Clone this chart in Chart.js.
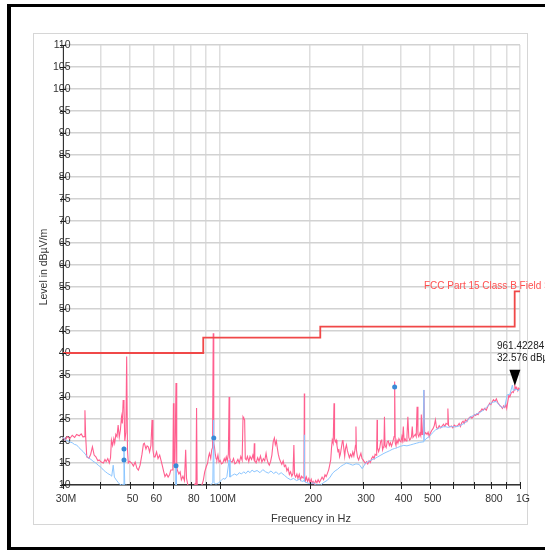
<!DOCTYPE html>
<html>
<head>
<title>Radiated Emission Scan</title>
<script src="https://cdn.jsdelivr.net/npm/chart.js@4.4.1/dist/chart.umd.min.js"></script>
<style>
  html, body { margin: 0; padding: 0; background: #fff; overflow: hidden; }
  #scan { display: block; }
</style>
</head>
<body>
<canvas id="scan" width="545" height="550"></canvas>
<script>
// FCC Part 15 Class B limit, MHz / dBuV/m
const limitFreq  = [30, 88, 88, 216, 216, 960, 960, 1000];
const limitLevel = [40, 40, 43.5, 43.5, 46, 46, 54, 54];

// peak trace (pink)
const peakFreq = [
  30.0, 30.5, 31.0, 31.6, 32.2, 32.8, 33.3, 34.0, 34.5, 35.0,
  35.3, 35.5, 35.7, 36.0, 36.6, 37.1, 37.6, 38.1, 38.6, 39.2,
  39.6, 40.2, 40.9, 41.4, 41.8, 42.3, 42.8, 43.2, 43.5, 43.9,
  44.3, 44.6, 45.0, 45.4, 45.8, 46.2, 46.6, 47.0, 47.3, 47.6,
  47.9, 48.2, 48.6, 48.9, 49.2, 49.5, 50.0, 50.8, 51.5, 52.2,
  52.9, 53.5, 54.2, 55.0, 55.6, 56.0, 56.7, 57.2, 57.7, 58.3,
  58.9, 59.4, 59.8, 60.3, 60.8, 61.5, 62.2, 63.0, 63.7, 64.4,
  65.0, 65.6, 66.4, 67.2, 68.0, 68.6, 69.3, 69.7, 70.0, 70.3,
  70.8, 71.4, 71.8, 72.1, 73.0, 73.7, 74.4, 75.3, 76.2, 76.9,
  77.4, 78.2, 79.3, 80.5, 81.5, 82.6, 83.2, 83.6, 84.0, 84.5,
  85.5, 86.9, 88.0, 89.0, 90.1, 91.0, 91.7, 92.3, 93.2, 93.9,
  94.5, 95.0, 95.4, 95.9, 96.5, 97.1, 97.7, 98.5, 99.3, 100.2,
  101.2, 102.3, 103.4, 104.2, 105.0, 105.8, 106.7, 107.3, 107.8, 108.5,
  109.8, 111.0, 112.2, 113.3, 114.8, 116.0, 117.4, 118.6, 119.4, 120.0,
  120.9, 121.5, 122.4, 123.5, 124.8, 126.0, 127.5, 128.8, 129.7, 130.2,
  130.7, 132.0, 133.6, 135.0, 136.5, 138.0, 139.5, 141.0, 142.5, 143.6,
  144.8, 146.1, 147.5, 149.0, 150.5, 151.9, 153.0, 154.2, 155.3, 156.5,
  157.8, 159.3, 160.8, 162.5, 164.0, 165.6, 167.2, 168.8, 170.4, 172.0,
  173.6, 175.2, 176.4, 177.3, 178.8, 180.5, 182.0, 183.8, 185.5, 187.3,
  189.2, 190.6, 191.1, 191.6, 192.8, 194.2, 196.0, 197.8, 199.5, 201.5,
  203.0, 204.5, 206.5, 208.5, 210.5, 212.5, 214.5, 216.5, 219.0, 221.5,
  224.0, 226.0, 228.3, 230.5, 232.0, 234.0, 235.5, 236.8, 238.5, 240.0,
  241.0, 242.5, 244.0, 245.5, 247.5, 249.0, 250.5, 252.0, 254.0, 256.0,
  257.0, 259.0, 260.5, 262.0, 264.0, 266.0, 268.0, 270.0, 272.5, 275.0,
  277.2, 279.5, 281.5, 283.0, 284.0, 285.0, 287.5, 290.0, 292.5, 295.0,
  297.5, 300.0, 302.5, 305.3, 308.0, 311.0, 314.0, 317.0, 320.2, 323.5,
  326.5, 329.0, 331.5, 333.0, 334.0, 335.0, 338.0, 341.0, 343.5, 346.0,
  348.5, 350.5, 352.0, 353.5, 355.0, 358.0, 361.0, 364.0, 367.0, 370.0,
  373.0, 376.0, 379.0, 380.5, 382.2, 384.0, 386.0, 389.0, 392.0, 395.0,
  398.0, 401.0, 404.0, 406.0, 408.5, 411.0, 414.0, 417.0, 420.0, 423.0,
  426.0, 429.0, 432.0, 435.0, 437.5, 440.0, 444.0, 448.0, 451.0, 454.0,
  457.0, 460.0, 464.0, 467.0, 469.0, 471.5, 475.0, 478.6, 481.0, 485.0,
  490.0, 494.0, 498.2, 503.0, 508.0, 513.0, 518.0, 522.6, 527.0, 532.0,
  538.0, 544.0, 550.0, 556.0, 561.8, 567.0, 572.0, 575.0, 578.0, 584.0,
  590.4, 597.0, 604.0, 611.0, 620.4, 627.0, 633.0, 640.0, 646.0, 651.5,
  658.0, 665.0, 672.0, 678.0, 683.7, 691.0, 699.0, 706.0, 712.0, 718.6,
  725.0, 732.0, 740.0, 747.0, 754.3, 762.0, 772.0, 780.0, 787.0, 792.3,
  800.0, 808.0, 816.0, 825.0, 834.0, 842.0, 850.0, 858.0, 866.0, 873.9,
  882.0, 890.0, 897.0, 903.0, 910.0, 917.6, 925.0, 933.0, 943.2, 950.0,
  956.0, 961.4, 968.0, 975.0, 983.0, 990.0, 1000.0
];
const peakLevel = [
  20.9, 20.2, 21.0, 20.5, 21.3, 20.8, 21.5, 21.2, 21.6, 20.9,
  21.0, 27.0, 21.0, 16.4, 16.1, 17.0, 18.7, 16.8, 16.4, 15.5,
  15.7, 15.2, 15.0, 15.8, 15.3, 16.0, 15.0, 16.2, 20.2, 19.0,
  20.5, 19.5, 21.5, 21.0, 23.6, 20.9, 22.5, 25.5, 24.0, 29.3,
  28.0, 20.0, 22.0, 39.2, 18.0, 15.0, 15.4, 15.0, 14.3, 15.2,
  13.8, 13.4, 14.5, 17.0, 19.3, 19.5, 18.2, 18.9, 18.7, 17.5,
  19.0, 24.8, 18.0, 16.4, 16.4, 17.5, 16.0, 16.8, 15.5, 14.2,
  13.0, 11.9, 12.5, 11.8, 12.4, 13.4, 13.4, 14.0, 28.6, 15.0,
  14.5, 33.2, 14.6, 13.4, 12.5, 13.0, 11.2, 12.0, 11.0, 18.0,
  11.5, 10.0, 9.5, 10.0, 9.2, 10.2, 9.5, 27.5, 9.5, 9.8,
  9.4, 9.8, 11.0, 13.0, 14.2, 15.0, 16.5, 17.2, 16.0, 18.0,
  18.5, 44.5, 19.5, 18.7, 17.0, 16.0, 15.7, 16.8, 15.2, 15.6,
  14.8, 15.0, 16.0, 15.4, 16.4, 15.5, 17.0, 30.0, 16.2, 15.4,
  15.2, 16.0, 14.8, 15.0, 15.8, 15.0, 16.5, 15.6, 25.5, 25.2,
  24.8, 16.0, 15.7, 16.5, 15.3, 16.5, 15.8, 16.8, 16.0, 19.5,
  15.5, 15.0, 16.2, 15.4, 16.6, 15.2, 16.0, 15.5, 17.2, 15.8,
  15.0, 14.5, 15.3, 16.8, 19.8, 20.7, 19.2, 20.0, 18.5, 17.0,
  16.0, 15.3, 14.7, 15.5, 14.2, 14.5, 13.2, 13.8, 12.4, 13.0,
  12.0, 12.6, 19.1, 12.3, 11.8, 12.5, 11.5, 12.4, 11.2, 12.0,
  11.6, 12.5, 30.8, 12.2, 11.0, 11.8, 10.8, 11.5, 10.6, 11.3,
  10.4, 10.8, 10.2, 11.0, 10.5, 11.2, 10.6, 11.1, 11.8, 11.2,
  12.3, 11.9, 12.7, 13.5, 14.4, 15.7, 18.5, 20.2, 19.5, 28.6,
  20.5, 19.8, 20.2, 19.0, 17.5, 18.2, 16.4, 17.0, 18.5, 20.0,
  20.2, 18.0, 16.5, 18.2, 19.1, 17.8, 17.0, 16.2, 17.0, 16.4,
  17.5, 16.6, 17.8, 19.0, 23.3, 18.0, 16.3, 15.7, 16.5, 17.2,
  16.0, 15.7, 15.3, 14.9, 15.3, 14.8, 15.5, 15.1, 16.0, 16.5,
  16.0, 17.0, 16.8, 18.0, 24.8, 18.5, 17.6, 18.5, 20.0, 20.2,
  18.0, 18.6, 19.0, 25.5, 19.0, 18.5, 19.8, 20.0, 19.0, 19.6,
  18.8, 19.5, 20.5, 21.0, 33.5, 19.5, 19.0, 20.2, 19.5, 20.5,
  20.0, 19.8, 21.0, 20.2, 23.3, 20.0, 20.5, 20.0, 21.0, 25.5,
  20.8, 20.2, 20.5, 21.0, 23.3, 20.8, 21.2, 21.5, 21.0, 27.8,
  21.5, 21.0, 21.8, 21.2, 26.0, 21.5, 21.8, 31.6, 21.5, 21.9,
  21.5, 22.0, 21.0, 21.8, 22.4, 22.8, 23.5, 24.8, 23.0, 22.8,
  23.5, 23.0, 23.4, 23.8, 23.3, 24.0, 23.8, 27.4, 23.5, 23.2,
  23.4, 23.0, 23.6, 23.3, 23.5, 24.0, 23.3, 24.2, 24.5, 24.0,
  24.8, 24.4, 25.0, 25.3, 25.5, 25.2, 25.6, 26.0, 25.8, 26.2,
  26.0, 26.6, 26.8, 27.3, 27.0, 27.4, 27.0, 27.8, 28.2, 28.6,
  28.3, 28.9, 29.4, 29.0, 29.6, 28.8, 28.4, 28.0, 27.8, 27.4,
  28.0, 27.6, 28.3, 27.4, 28.8, 30.4, 30.0, 30.8, 31.2, 31.0,
  31.6, 32.6, 31.8, 32.2, 31.4, 32.0, 31.6
];

// average trace (light blue)
const avgFreq = [
  30.0, 30.6, 31.1, 31.6, 32.2, 32.8, 33.3, 33.9, 34.5, 35.0,
  35.6, 36.1, 36.6, 37.2, 37.8, 38.6, 39.3, 40.2, 40.9, 41.6,
  42.3, 43.1, 43.6, 44.1, 44.5, 45.2, 45.8, 46.3, 47.0, 47.6,
  47.9, 48.2, 48.9, 49.5, 52.0, 60.0, 70.0, 71.2, 71.4, 71.6,
  80.0, 88.0, 90.0, 93.0, 94.7, 95.3, 95.6, 97.0, 99.0, 101.0,
  102.5, 104.0, 105.5, 107.3, 108.0, 110.0, 112.0, 114.0, 116.0, 118.0,
  120.0, 122.0, 124.0, 126.0, 128.0, 130.0, 133.0, 136.0, 139.0, 142.0,
  145.0, 148.0, 151.0, 154.0, 157.0, 160.0, 164.0, 168.0, 172.0, 176.0,
  180.0, 184.0, 188.0, 190.8, 191.1, 191.4, 195.0, 200.0, 205.0, 210.0,
  216.5, 222.0, 228.3, 233.0, 237.5, 242.0, 247.0, 252.4, 258.0, 264.2,
  270.0, 277.2, 284.0, 290.9, 298.0, 305.3, 312.0, 320.2, 328.0, 335.9,
  344.0, 352.2, 360.0, 368.0, 375.0, 382.2, 390.0, 400.0, 410.0, 420.0,
  431.0, 441.0, 452.1, 463.0, 475.1, 477.8, 478.6, 479.4, 486.0, 498.2,
  510.0, 522.6, 540.0, 561.8, 575.0, 590.4, 605.0, 620.4, 635.0, 651.5,
  668.0, 683.7, 700.0, 718.6, 736.0, 754.3, 772.0, 792.3, 812.0, 832.2,
  852.0, 873.9, 890.0, 906.2, 925.0, 943.2, 950.0, 970.0, 985.0, 1000.0
];
const avgLevel = [
  20.9, 20.2, 20.0, 19.8, 19.6, 19.2, 19.1, 18.5, 18.0, 17.6,
  17.0, 16.4, 16.1, 15.8, 15.4, 15.0, 14.5, 14.0, 13.4, 13.0,
  12.6, 12.3, 12.0, 14.5, 11.8, 11.1, 10.6, 10.2, 10.0, 10.1,
  18.7, 9.8, 10.0, 9.0, 8.5, 8.0, 8.0, 8.0, 14.4, 8.0,
  8.0, 8.0, 9.5, 10.0, 10.5, 24.8, 10.5, 10.2, 10.5, 11.0,
  11.5, 11.3, 11.9, 15.7, 11.8, 12.2, 12.5, 12.2, 12.8, 12.5,
  13.0, 12.6, 13.2, 12.8, 13.4, 13.0, 13.3, 12.8, 13.5, 13.0,
  12.7, 13.2, 12.6, 13.0, 12.4, 12.8, 12.2, 11.6, 11.2, 11.5,
  11.0, 11.3, 10.8, 11.0, 21.4, 10.8, 10.5, 10.3, 10.5, 10.0,
  10.0, 10.6, 11.1, 11.8, 12.7, 13.2, 13.6, 14.2, 14.6, 15.0,
  14.8, 14.5, 14.8, 14.7, 13.7, 14.9, 15.3, 15.7, 16.0, 16.4,
  16.8, 17.2, 17.5, 17.8, 18.1, 18.3, 18.5, 18.8, 19.0, 18.9,
  19.1, 19.3, 19.5, 19.7, 19.8, 20.0, 31.6, 20.0, 20.5, 21.0,
  21.8, 22.5, 23.0, 23.3, 23.1, 23.3, 23.2, 23.3, 23.6, 24.0,
  24.6, 25.5, 25.8, 26.2, 26.5, 27.0, 27.6, 28.4, 28.8, 29.0,
  28.2, 27.6, 27.8, 30.5, 30.6, 32.7, 31.5, 31.8, 31.4, 31.8
];

// quasi-peak readings (blue dots)
const qpFreq  = [47.9, 47.9, 71.4, 95.4, 382.2];
const qpLevel = [18.2, 15.7, 14.4, 20.7, 32.3];

// marker
const markerFreq  = 961.42284;
const markerLevel = 32.576;

// axis ticks
const xGridValues  = [30, 40, 50, 60, 70, 80, 90, 100, 200, 300, 400, 500, 600, 700, 800, 900, 1000];
const xLabelValues = [30, 50, 60, 80, 100, 200, 300, 400, 500, 800, 1000];
const xLabels      = ['30M', '50', '60', '80', '100M', '200', '300', '400', '500', '800', '1G'];

const FONT = "'Liberation Sans', Arial, sans-serif";
const TEXT = '#333';

function toPoints(fs, ls) {
    return fs.map((f, i) => ({ x: f, y: ls[i] }));
}

// white page, black frame and light box
const framePlugin = {
    id: 'frame',
    beforeDraw(chart) {
        const c = chart.ctx;
        c.save();
        c.fillStyle = '#fff';
        c.fillRect(0, 0, chart.width, chart.height);
        c.strokeStyle = '#d6d6d6';
        c.lineWidth = 1;
        c.strokeRect(33.5, 33.5, 494, 491);
        c.fillStyle = '#000';
        c.fillRect(7, 4, 538, 3);
        c.fillRect(7, 4, 4, 546);
        c.fillRect(7, 547, 538, 3);
        c.restore();
    }
};

// axis cross ticks, titles, limit name, marker
const overlayPlugin = {
    id: 'overlay',
    afterDraw(chart) {
        const c = chart.ctx;
        const xs = chart.scales.x, ys = chart.scales.y;
        const a = chart.chartArea;
        c.save();

        c.strokeStyle = '#222';
        c.lineWidth = 1;
        c.beginPath();
        ys.ticks.forEach(t => {
            const y = Math.round(ys.getPixelForValue(t.value)) + 0.5;
            c.moveTo(a.left - 3, y);
            c.lineTo(a.left + 3, y);
        });
        xGridValues.forEach(v => {
            const x = Math.round(xs.getPixelForValue(v)) + 0.5;
            c.moveTo(x, a.bottom - 3);
            c.lineTo(x, a.bottom + 4);
        });
        c.stroke();

        c.fillStyle = TEXT;
        c.font = '11px ' + FONT;
        c.textAlign = 'center';
        c.textBaseline = 'middle';
        c.fillText('Frequency in Hz', 311, 519);
        c.save();
        c.translate(44, 267);
        c.rotate(-Math.PI / 2);
        c.font = '10.5px ' + FONT;
        c.fillText('Level in dBµV/m', 0, 0);
        c.restore();

        // limit name
        c.fillStyle = '#ff5050';
        c.font = '10px ' + FONT;
        c.textAlign = 'left';
        c.textBaseline = 'alphabetic';
        c.fillText('FCC Part 15 Class B Field Strength', 424, ys.getPixelForValue(54) - 2);

        // marker triangle + readout
        const mx = xs.getPixelForValue(markerFreq);
        const my = ys.getPixelForValue(markerLevel);
        c.fillStyle = '#000';
        c.beginPath();
        c.moveTo(mx, my);
        c.lineTo(mx - 5.5, my - 16);
        c.lineTo(mx + 5.5, my - 16);
        c.closePath();
        c.fill();
        c.fillStyle = '#222';
        c.textBaseline = 'middle';
        c.fillText(markerFreq.toFixed(5) + ' MHz', 497, my - 39);
        c.fillText(markerLevel.toFixed(3) + ' dBµV/m', 497, my - 27);

        c.restore();
    }
};

new Chart(document.getElementById('scan'), {
    type: 'line',
    data: {
        datasets: [
            {
                label: 'Limit',
                data: toPoints(limitFreq, limitLevel),
                borderColor: '#f04848',
                borderWidth: 1.8,
                pointRadius: 0,
                order: 0
            },
            {
                label: 'QP',
                data: toPoints(qpFreq, qpLevel),
                showLine: false,
                pointRadius: 2.5,
                pointBackgroundColor: '#3a8ad6',
                pointBorderWidth: 0,
                order: 1
            },
            {
                label: 'Average',
                data: toPoints(avgFreq, avgLevel),
                borderColor: '#8cc6ff',
                borderWidth: 1,
                pointRadius: 0,
                order: 2
            },
            {
                label: 'Peak',
                data: toPoints(peakFreq, peakLevel),
                borderColor: '#ff5f8f',
                borderWidth: 1.1,
                pointRadius: 0,
                order: 3
            }
        ]
    },
    options: {
        responsive: false,
        animation: false,
        devicePixelRatio: 1,
        layout: { padding: { left: 0, top: 45, right: 25, bottom: 0 } },
        plugins: {
            legend: { display: false },
            tooltip: { enabled: false }
        },
        scales: {
            x: {
                type: 'logarithmic',
                min: 30,
                max: 1000,
                afterBuildTicks: s => { s.ticks = xGridValues.map(v => ({ value: v })); },
                afterFit: s => { s.height = 65; },
                grid: { color: '#dedede', lineWidth: 1.5, drawTicks: false },
                border: { color: '#333', width: 1.5 },
                ticks: {
                    autoSkip: false,
                    maxRotation: 0,
                    padding: 8,
                    labelOffset: 3,
                    color: TEXT,
                    font: { family: FONT, size: 10.5 },
                    callback: v => {
                        const i = xLabelValues.indexOf(v);
                        return i >= 0 ? xLabels[i] : '';
                    }
                }
            },
            y: {
                min: 10,
                max: 110,
                afterFit: s => { s.width = 63; },
                grid: { color: '#d2d2d2', lineWidth: 1.5, drawTicks: false },
                border: { color: '#333', width: 1 },
                ticks: {
                    stepSize: 2.5,
                    mirror: true,
                    crossAlign: 'far',
                    padding: -10,
                    color: TEXT,
                    font: { family: FONT, size: 10.5 },
                    callback: v => (v % 5 === 0 ? String(v) : '')
                }
            }
        }
    },
    plugins: [framePlugin, overlayPlugin]
});
</script>
</body>
</html>
